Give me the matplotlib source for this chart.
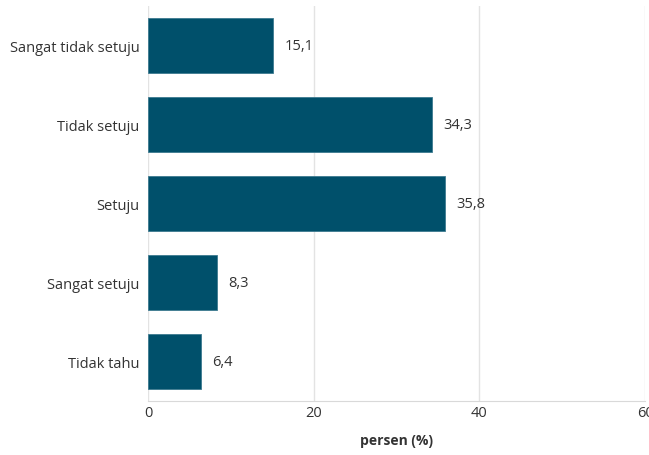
import matplotlib
matplotlib.use("Agg")
import matplotlib.pyplot as plt

categories = ["Sangat tidak setuju", "Tidak setuju", "Setuju", "Sangat setuju", "Tidak tahu"]
values = [15.1, 34.3, 35.8, 8.3, 6.4]
xticks = [0, 20, 40, 60]

plt.rcParams['font.family'] = ['Open Sans', 'DejaVu Sans']

fig = plt.figure(figsize=(6.49, 4.56), dpi=100)
ax = fig.add_axes([0.228, 0.118, 0.766, 0.867])

pos = list(range(len(categories)))[::-1]
ax.barh(pos, values, height=0.69, color="#00506b", edgecolor="#3d7a90", linewidth=0.6, zorder=3)
for p, v in zip(pos, values):
    ax.text(v + 1.4, p, f"{v:.1f}".replace(".", ","), va="center", ha="left",
            fontsize=10.5, color="#333333")

ax.set_yticks(pos)
ax.set_yticklabels(categories, fontsize=10.5, color="#333333")
ax.set_xticks(xticks)
ax.set_xticklabels([str(t) for t in xticks], fontsize=10.5, color="#333333")
ax.set_xlim(0, 60)
ax.set_ylim(-0.5, 4.5)
ax.tick_params(length=0)
ax.tick_params(axis="x", pad=3)
ax.tick_params(axis="y", pad=6)
ax.grid(axis="x", color="#e3e3e3", linewidth=1, zorder=0)
for s in ["top", "right", "left"]:
    ax.spines[s].set_visible(False)
ax.spines["bottom"].set_color("#d9d9d9")
ax.set_xlabel("persen (%)", fontsize=10, fontweight="bold", color="#333333", labelpad=9)

fig.savefig("out.png", dpi=100)
